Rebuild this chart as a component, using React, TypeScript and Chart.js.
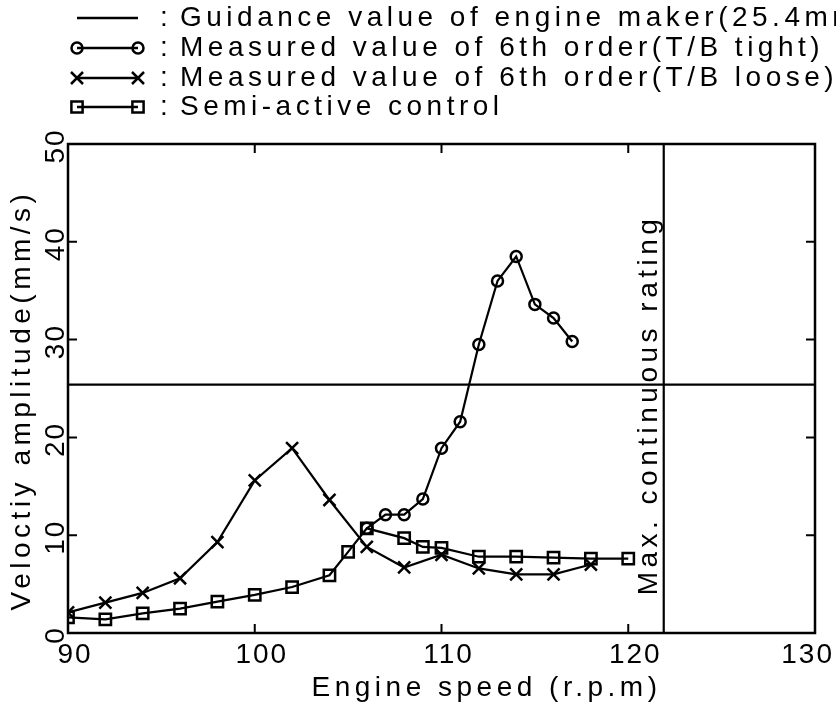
import React, { useEffect, useRef } from 'react';
import { Chart, registerables } from 'chart.js';

Chart.register(...registerables);

// Engine speed (r.p.m) / velocity amplitude (mm/s)
const speedLoose = [90, 92, 94, 96, 98, 100, 102, 104, 106, 108, 110, 112, 114, 116, 118];
const velLoose = [2.1, 3.1, 4.1, 5.6, 9.3, 15.6, 18.9, 13.6, 8.8, 6.7, 8.0, 6.6, 6.0, 6.0, 7.0];

const speedTight = [106, 107, 108, 109, 110, 111, 112, 113, 114, 115, 116, 117];
const velTight = [10.7, 12.1, 12.1, 13.7, 18.9, 21.6, 29.5, 36.0, 38.5, 33.6, 32.2, 29.8];

const speedSemi = [90, 92, 94, 96, 98, 100, 102, 104, 105, 106, 108, 109, 110, 112, 114, 116, 118, 120];
const velSemi = [1.6, 1.4, 2.0, 2.5, 3.2, 3.9, 4.7, 5.9, 8.3, 10.7, 9.7, 8.8, 8.7, 7.8, 7.8, 7.7, 7.6, 7.6];

const guidanceValue = 25.4;
const mcrSpeed = 121.9;

const xTicks = [90, 100, 110, 120, 130];
const yTicks = [0, 10, 20, 30, 40, 50];

const legendLabels = [
  'Guidance value of engine maker(25.4mm/s)',
  'Measured value of 6th order(T/B tight)',
  'Measured value of 6th order(T/B loose)',
  'Semi-active control',
];
const xTitle = 'Engine speed (r.p.m)';
const yTitle = 'Veloctiy amplitude(mm/s)';
const mcrLabel = 'Max. continuous rating';

const FONT = '"Liberation Sans", Arial, sans-serif';
const INK = '#000';

const toPoints = (xs: number[], ys: number[]) => xs.map((x, i) => ({ x, y: ys[i] }));

function spacing(ctx: CanvasRenderingContext2D, px: number) {
  (ctx as any).letterSpacing = px + 'px';
}

function drawMarker(ctx: CanvasRenderingContext2D, kind: string, x: number, y: number) {
  ctx.beginPath();
  if (kind === 'circle') {
    ctx.arc(x, y, 5.5, 0, Math.PI * 2);
  } else if (kind === 'cross') {
    const h = 6;
    ctx.moveTo(x - h, y - h);
    ctx.lineTo(x + h, y + h);
    ctx.moveTo(x + h, y - h);
    ctx.lineTo(x - h, y + h);
  } else if (kind === 'rect') {
    const h = 5.6;
    ctx.rect(x - h, y - h, 2 * h, 2 * h);
  }
  ctx.stroke();
}

const decorations = {
  id: 'decorations',
  afterDraw(chart: any) {
    const ctx: CanvasRenderingContext2D = chart.ctx;
    const area = chart.chartArea;
    const xs = chart.scales.x;
    const ys = chart.scales.y;
    ctx.save();
    ctx.strokeStyle = INK;
    ctx.fillStyle = INK;

    // frame
    ctx.lineWidth = 2.5;
    ctx.strokeRect(area.left, area.top, area.right - area.left, area.bottom - area.top);

    // inward tick marks
    ctx.lineWidth = 2;
    const tl = 9;
    xTicks.slice(1, -1).forEach((v) => {
      const px = xs.getPixelForValue(v);
      ctx.beginPath();
      ctx.moveTo(px, area.bottom);
      ctx.lineTo(px, area.bottom - tl);
      ctx.moveTo(px, area.top);
      ctx.lineTo(px, area.top + tl);
      ctx.stroke();
    });
    yTicks.slice(1, -1).forEach((v) => {
      const py = ys.getPixelForValue(v);
      ctx.beginPath();
      ctx.moveTo(area.left, py);
      ctx.lineTo(area.left + tl, py);
      ctx.moveTo(area.right, py);
      ctx.lineTo(area.right - tl, py);
      ctx.stroke();
    });

    // x tick labels
    ctx.font = `28px ${FONT}`;
    spacing(ctx, 2);
    ctx.textAlign = 'center';
    ctx.textBaseline = 'middle';
    xTicks.forEach((v) => {
      const label = String(v);
      const w = ctx.measureText(label).width;
      let cx = xs.getPixelForValue(v) + 7;
      if (cx + w / 2 > chart.width - 2) cx = chart.width - 2 - w / 2;
      ctx.fillText(label, cx, area.bottom + 22);
    });

    // y tick labels (rotated)
    yTicks.forEach((v) => {
      const py = ys.getPixelForValue(v);
      ctx.save();
      ctx.translate(area.left - 12, py + 2);
      ctx.rotate(-Math.PI / 2);
      ctx.fillText(String(v), 0, 0);
      ctx.restore();
    });

    // axis titles
    spacing(ctx, 4.5);
    ctx.fillText(xTitle, (area.left + area.right) / 2 + 45, area.bottom + 55);
    ctx.save();
    ctx.translate(22, 400);
    ctx.rotate(-Math.PI / 2);
    ctx.fillText(yTitle, 0, 0);
    ctx.restore();

    // MCR label beside the vertical line
    const mx = xs.getPixelForValue(mcrSpeed);
    ctx.save();
    ctx.translate(mx - 14, 405);
    ctx.rotate(-Math.PI / 2);
    ctx.fillText(mcrLabel, 0, 0);
    ctx.restore();

    // legend
    const rows = [18, 48, 78, 107];
    const kinds = ['none', 'circle', 'cross', 'rect'];
    const x0 = 77;
    const x1 = 138;
    ctx.textAlign = 'left';
    rows.forEach((ry, i) => {
      ctx.lineWidth = 2.5;
      ctx.beginPath();
      ctx.moveTo(x0, ry);
      ctx.lineTo(x1, ry);
      ctx.stroke();
      if (kinds[i] !== 'none') {
        drawMarker(ctx, kinds[i], x0, ry);
        drawMarker(ctx, kinds[i], x1, ry);
      }
      spacing(ctx, 0);
      ctx.fillText(':', 160, ry);
      spacing(ctx, 4.5);
      ctx.fillText(legendLabels[i], 180, ry);
    });
    spacing(ctx, 0);
    ctx.restore();
  },
};

export default function App() {
  const canvasRef = useRef<HTMLCanvasElement | null>(null);

  useEffect(() => {
    document.body.style.margin = '0';
    const canvas = canvasRef.current;
    if (!canvas) return;

    const lineBase = {
      borderColor: INK,
      borderWidth: 2.2,
      pointBorderColor: INK,
      pointBackgroundColor: 'rgba(0,0,0,0)',
      pointBorderWidth: 2.5,
      tension: 0,
      fill: false,
    };

    const chart = new Chart(canvas, {
      type: 'line',
      data: {
        datasets: [
          {
            ...lineBase,
            label: legendLabels[0],
            data: [
              { x: xTicks[0], y: guidanceValue },
              { x: xTicks[xTicks.length - 1], y: guidanceValue },
            ],
            pointRadius: 0,
          },
          {
            ...lineBase,
            label: mcrLabel,
            data: [
              { x: mcrSpeed, y: yTicks[0] },
              { x: mcrSpeed, y: yTicks[yTicks.length - 1] },
            ],
            pointRadius: 0,
          },
          {
            ...lineBase,
            label: legendLabels[1],
            data: toPoints(speedTight, velTight),
            pointStyle: 'circle',
            pointRadius: 5.5,
          },
          {
            ...lineBase,
            label: legendLabels[2],
            data: toPoints(speedLoose, velLoose),
            pointStyle: 'crossRot',
            pointRadius: 8.5,
          },
          {
            ...lineBase,
            label: legendLabels[3],
            data: toPoints(speedSemi, velSemi),
            pointStyle: 'rect',
            pointRadius: 8,
          },
        ],
      },
      options: {
        animation: false,
        responsive: false,
        maintainAspectRatio: false,
        devicePixelRatio: 1,
        layout: { padding: { left: 68, right: 21, top: 144, bottom: 73 } },
        plugins: {
          legend: { display: false },
          tooltip: { enabled: false },
        },
        scales: {
          x: { type: 'linear', min: 90, max: 130, display: false },
          y: { type: 'linear', min: 0, max: 50, display: false },
        },
      },
      plugins: [decorations],
    });

    return () => chart.destroy();
  }, []);

  return (
    <div style={{ position: 'fixed', left: 0, top: 0, width: 836, height: 706, background: '#fff' }}>
      <canvas ref={canvasRef} width={836} height={706} />
    </div>
  );
}
